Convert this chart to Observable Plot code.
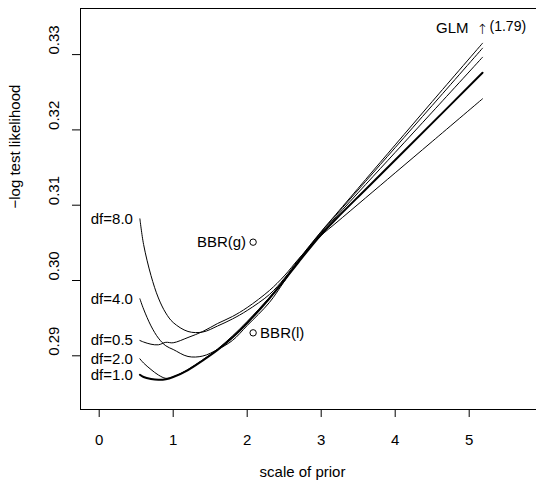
<!DOCTYPE html>
<html><head><meta charset="utf-8">
<script src="https://cdn.jsdelivr.net/npm/d3@7"></script>
<script src="https://cdn.jsdelivr.net/npm/@observablehq/plot@0.6"></script>
<style>body{margin:0;background:#fff;} svg{display:block}</style>
</head><body><div id="chart"></div>
<script>
// scale of prior (x positions shared by all curves)
const scale = [0.55, 0.6, 0.7, 0.8, 0.9, 1.0, 1.2, 1.4, 1.6, 1.8, 2.0, 2.3, 2.5, 2.7, 3.0, 3.2, 3.6, 4.0, 4.5, 5.18];
// -log test likelihood for each prior df
const df8  = [0.30819, 0.30478, 0.30066, 0.29768, 0.29568, 0.29442, 0.29323, 0.29316, 0.29396, 0.29489, 0.29602, 0.29814, 0.30027, 0.30286, 0.30651, 0.30880, 0.31341, 0.31801, 0.32376, 0.33151];
const df4  = [0.29757, 0.29620, 0.29397, 0.29235, 0.29133, 0.29084, 0.28991, 0.28997, 0.29084, 0.29203, 0.29402, 0.29708, 0.29987, 0.30272, 0.30644, 0.30869, 0.31316, 0.31765, 0.32324, 0.33085];
const df05 = [0.29203, 0.29183, 0.29154, 0.29146, 0.29179, 0.29173, 0.29243, 0.29323, 0.29429, 0.29522, 0.29641, 0.29867, 0.30060, 0.30292, 0.30598, 0.30764, 0.31097, 0.31430, 0.31846, 0.32413];
const df2  = [0.28960, 0.28904, 0.28818, 0.28745, 0.28701, 0.28721, 0.28818, 0.28947, 0.29090, 0.29263, 0.29456, 0.29774, 0.30013, 0.30266, 0.30631, 0.30845, 0.31274, 0.31701, 0.32236, 0.32965];
const df1  = [0.28748, 0.28718, 0.28692, 0.28681, 0.28688, 0.28718, 0.28811, 0.28938, 0.29077, 0.29243, 0.29436, 0.29761, 0.30000, 0.30252, 0.30611, 0.30817, 0.31209, 0.31600, 0.32090, 0.32758];
const dfLabels = ["df=8.0", "df=4.0", "df=0.5", "df=2.0", "df=1.0"];
const seriesValues = [df8, df4, df05, df2, df1];

// BBR reference points
const bbrLabels = ["BBR(g)", "BBR(l)"];
const bbrX = [2.08, 2.08];
const bbrY = [0.30509, 0.29305];

// GLM annotation
const glmText = ["GLM", "\u2191", "(1.79)"];
const glmX = 5.18;
const glmY = 0.3335;

const xTicks = [0, 1, 2, 3, 4, 5];
const yTicks = [0.29, 0.30, 0.31, 0.32, 0.33];
const xLabel = "scale of prior";
const yLabel = "\u2212log test likelihood";

const xDom = [-0.2527, 5.9095];
const yDom = [0.282869, 0.336122];

const rows = dfLabels.flatMap((s, i) => scale.map((x, j) => ({series: s, x, y: seriesValues[i][j]})));
const starts = dfLabels.map((s, i) => ({series: s, x: scale[0], y: seriesValues[i][0]}));
const bbr = bbrLabels.map((s, i) => ({label: s, x: bbrX[i], y: bbrY[i]}));

const font = "'Liberation Sans', Arial, Helvetica, sans-serif";

const chart = Plot.plot({
  width: 536,
  height: 484,
  marginLeft: 80,
  marginRight: 0,
  marginTop: 8,
  marginBottom: 75,
  style: {fontFamily: font, fontSize: "15px", color: "black", background: "white"},
  x: {domain: xDom},
  y: {domain: yDom},
  marks: [
    Plot.ruleY([yDom[0], yDom[1]], {stroke: "black", strokeWidth: 1}),
    Plot.ruleX([xDom[0]], {stroke: "black", strokeWidth: 1}),
    Plot.axisX({ticks: xTicks, tickSize: 8, tickPadding: 17, fontSize: 15, label: null, stroke: "black", tickFormat: d3.format("d")}),
    Plot.axisY({ticks: yTicks, tickSize: 8, tickFormat: () => "", label: null, stroke: "black"}),
    Plot.text(yTicks, {y: d => d, text: d => d.toFixed(2), frameAnchor: "left", dx: -26.7, rotate: -90, fontSize: 15, fill: "black"}),
    Plot.line(rows.filter(d => d.series !== "df=1.0"), {x: "x", y: "y", z: "series", stroke: "black", strokeWidth: 1, curve: "catmull-rom"}),
    Plot.line(rows.filter(d => d.series === "df=1.0"), {x: "x", y: "y", stroke: "black", strokeWidth: 2, curve: "catmull-rom"}),
    Plot.text(starts, {x: "x", y: "y", text: "series", textAnchor: "end", dx: -7, fontSize: 15, fill: "black"}),
    Plot.dot(bbr, {x: "x", y: "y", r: 3.2, stroke: "black", fill: "none", strokeWidth: 1}),
    Plot.text(bbr.filter(d => d.label === "BBR(g)"), {x: "x", y: "y", text: "label", textAnchor: "end", dx: -7, fontSize: 15, fill: "black"}),
    Plot.text(bbr.filter(d => d.label === "BBR(l)"), {x: "x", y: "y", text: "label", textAnchor: "start", dx: 7, fontSize: 15, fill: "black"}),
    Plot.text([glmText[0]], {x: glmX, y: glmY, text: d => d, textAnchor: "end", dx: -14, fontSize: 15, fill: "black"}),
    Plot.text([glmText[1]], {x: glmX, y: glmY, text: d => d, textAnchor: "middle", dx: 0, dy: 1, fontSize: 14, fontFamily: "'DejaVu Sans'", fontWeight: "200", fill: "black"}),
    Plot.text([glmText[2]], {x: glmX, y: glmY, text: d => d, textAnchor: "start", dx: 7, dy: -2, fontSize: 14, fill: "black"}),
    Plot.text([xLabel], {x: 2.747, frameAnchor: "bottom", dy: 67, fontSize: 15, fill: "black"}),
    Plot.text([yLabel], {y: 0.30956, frameAnchor: "left", dx: -65, rotate: -90, fontSize: 15, fill: "black"})
  ]
});
document.getElementById("chart").appendChild(chart);
</script>
</body></html>
